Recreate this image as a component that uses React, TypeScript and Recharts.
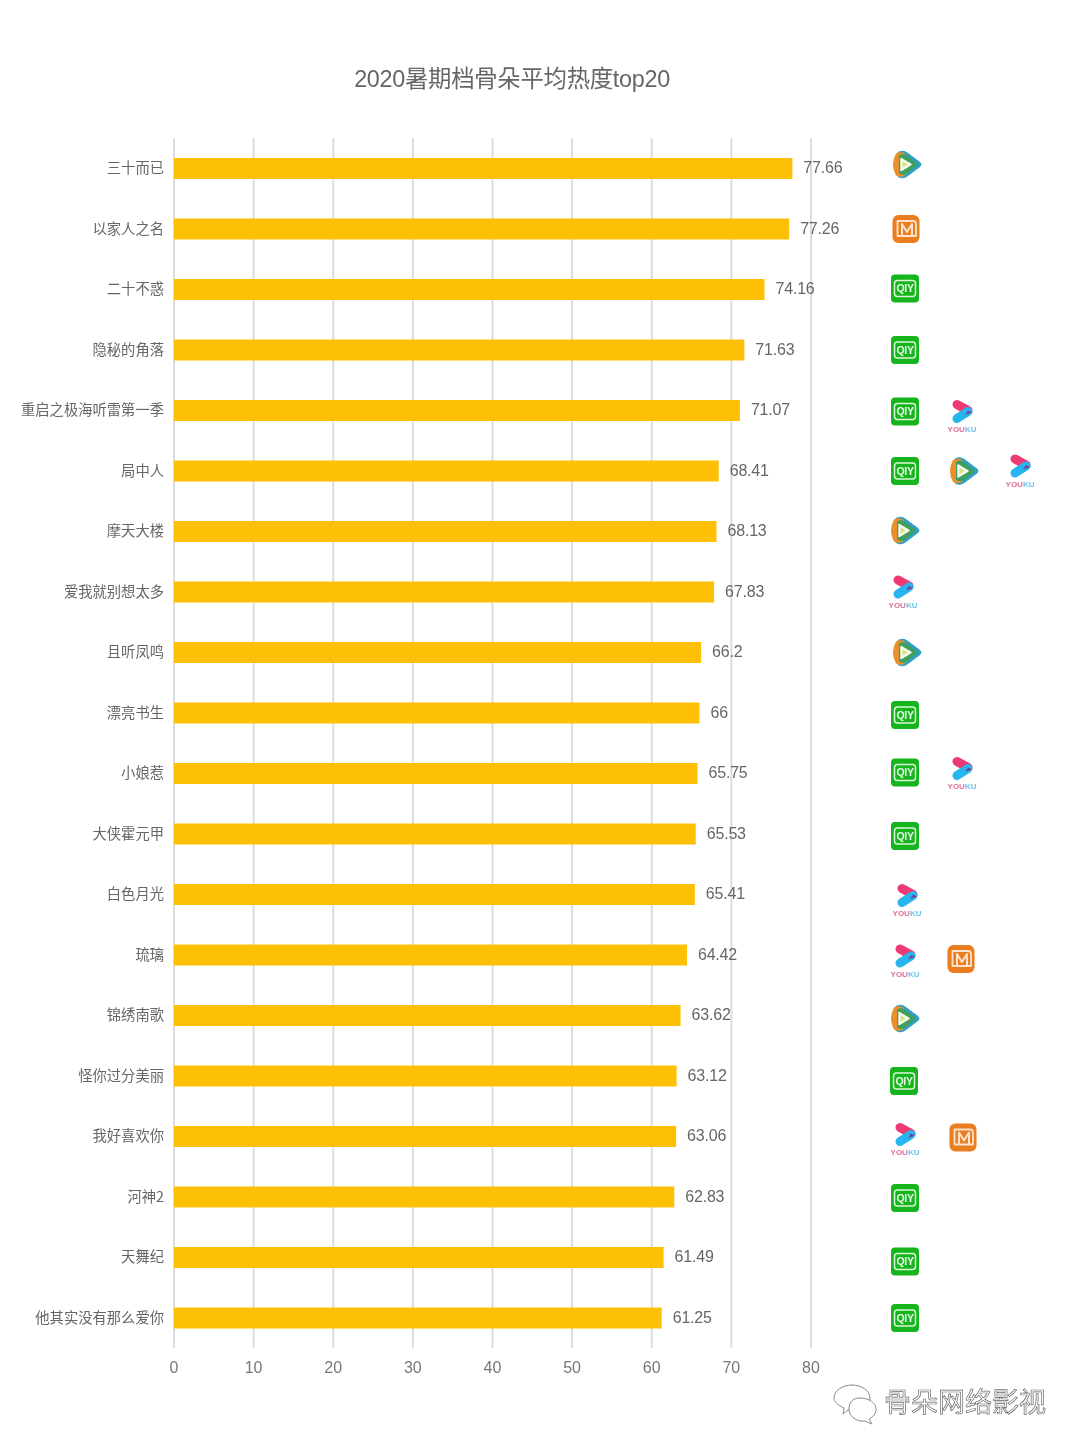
import React from "react";
import { BarChart, Bar, XAxis, YAxis, CartesianGrid, LabelList } from "recharts";

const CJK = '"Noto Sans CJK SC", "Noto Sans", sans-serif';
const LATIN = '"Liberation Sans", "Noto Sans CJK SC", sans-serif';

const titles = ["三十而已","以家人之名","二十不惑","隐秘的角落","重启之极海听雷第一季","局中人","摩天大楼","爱我就别想太多","且听凤鸣","漂亮书生","小娘惹","大侠霍元甲","白色月光","琉璃","锦绣南歌","怪你过分美丽","我好喜欢你","河神2","天舞纪","他其实没有那么爱你"];
const heat = [77.66,77.26,74.16,71.63,71.07,68.41,68.13,67.83,66.2,66,65.75,65.53,65.41,64.42,63.62,63.12,63.06,62.83,61.49,61.25];
const platforms = [["tencent"],["mango"],["iqiyi"],["iqiyi"],["iqiyi","youku"],["iqiyi","tencent","youku"],["tencent"],["youku"],["tencent"],["iqiyi"],["iqiyi","youku"],["iqiyi"],["youku"],["youku","mango"],["tencent"],["iqiyi"],["youku","mango"],["iqiyi"],["iqiyi"],["iqiyi"]];
const xTicks = [0,10,20,30,40,50,60,70,80];

const rows = titles.map((name, i) => ({ name, heat: heat[i] }));

const iconColumns = [905, 962, 1020];
const iconNudges = [
  [[1,-4]],[[1,0]],[[0,-1]],[[0,0]],[[0,1],[0,6]],[[0,0],[1,0],[0,0]],[[-1,-1]],[[-2,0]],[[1,0]],[[0,2]],
  [[0,-1],[0,0]],[[0,2]],[[2,6]],[[0,6],[-1,4]],[[-1,3]],[[-1,5]],[[0,3],[1,1]],[[0,1]],[[0,4]],[[0,0]],
];

function Tencent({ x, y }: any) {
  return (
    <g transform={`translate(${x} ${y})`}>
      <path d="M-8,-12 Q-3,-15 2,-11 L14,-2 Q16,0 14,2 L2,11 Q-3,15 -8,12 Z" fill="#2f9fc4" stroke="#2f9fc4" strokeWidth="1" strokeLinejoin="round" />
      <path d="M-10,-11 Q-4,-14 0,-10 L0,10 Q-4,14 -10,11 Q-16,0 -10,-11 Z" fill="#e8902a" />
      <path d="M-7,-9 Q-3,-11.5 1,-9 L11,-1 Q12,0 11,1 L1,9 Q-3,11.5 -7,9 Z" fill="#3f9e60" />
      <path d="M-5,-6 L5,0 L-5,6 Z" fill="#f6f8e8" stroke="#f6f8e8" strokeWidth="1.5" strokeLinejoin="round" />
      <path d="M-3.5,-3 L1.5,0 L-3.5,3 Z" fill="#d6e47a" />
    </g>
  );
}

function Mango({ x, y }: any) {
  return (
    <g transform={`translate(${x} ${y})`}>
      <rect x={-13.5} y={-14} width={27} height={28} rx={6} fill="#ea7d20" />
      <path d="M-8.5,-8 H7 Q10,-8 10,-5 V7 H-8.5 Z" fill="none" stroke="#fbe3cd" strokeWidth="1.8" strokeLinejoin="round" />
      <path d="M-4,7 V-5 L1,3 L6,-5 V7" fill="none" stroke="#fbe3cd" strokeWidth="2" strokeLinejoin="round" />
    </g>
  );
}

function Iqiyi({ x, y }: any) {
  return (
    <g transform={`translate(${x} ${y})`}>
      <rect x={-14} y={-14} width={28} height={28} rx={4} fill="#17b51d" />
      <rect x={-10.5} y={-8} width={21} height={16} rx={3} fill="none" stroke="#d8f5d8" strokeWidth="1.5" />
      <text x={0} y={3.8} textAnchor="middle" fontSize={10.5} fontWeight={700} fontFamily='"Liberation Sans", sans-serif' fill="#e8fbe8" letterSpacing={-0.3}>QIY</text>
    </g>
  );
}

function Youku({ x, y }: any) {
  return (
    <g transform={`translate(${x} ${y})`}>
      <path d="M-5,-12 L6,-6" stroke="#ee3a72" strokeWidth="9" strokeLinecap="round" />
      <path d="M6,-5 L-5,2" stroke="#27b5ee" strokeWidth="9" strokeLinecap="round" />
      <path d="M6,-6 L10,-4 L3,-1.5 Z" fill="#7a3f90" />
      <text x={0} y={15.5} textAnchor="middle" fontSize={8} fontWeight={700} fontFamily='"Liberation Sans", sans-serif' fill="#e46f95">
        YOU<tspan fill="#6cc4e8">KU</tspan>
      </text>
    </g>
  );
}

const iconOf: Record<string, any> = { tencent: Tencent, mango: Mango, iqiyi: Iqiyi, youku: Youku };

function PlatformIcons(props: any) {
  const { y, height, index } = props;
  const cy = y + height / 2;
  return (
    <g>
      {platforms[index].map((p, col) => {
        const Icon = iconOf[p];
        const [dx, dy] = iconNudges[index][col];
        return <Icon key={col} x={iconColumns[col] + dx} y={cy + dy} />;
      })}
    </g>
  );
}

function Watermark() {
  return (
    <g>
      <g fill="#fff" stroke="#8a8a8a" strokeWidth="1">
        <path d="M852,1385 C862,1385 870,1391 870,1398 C870,1405 862,1410 852,1410 L848,1410 L843,1414 L844,1408 C838,1405 834,1402 834,1398 C834,1391 842,1385 852,1385 Z" />
        <path d="M860,1398 C869,1398 876,1403 876,1409 C876,1414 873,1417 869,1419 L872,1424 L865,1421 C857,1422 849,1417 849,1409 C849,1403 852,1398 860,1398 Z" />
      </g>
      <text x={884} y={1412} fontSize={27} fontFamily={CJK} fill="#fff" stroke="#6a6a6a" strokeWidth={0.7}>骨朵网络影视</text>
    </g>
  );
}

export default function App() {
  return (
    <div style={{ position: "absolute", left: 0, top: 0, width: 1080, height: 1450, background: "#fff", filter: "blur(0.4px)" }}>
      <BarChart
        width={1080}
        height={1450}
        data={rows}
        layout="vertical"
        margin={{ top: 138, right: 269, bottom: 62, left: 0 }}
      >
        <CartesianGrid horizontal={false} vertical stroke="#dcdcdc" strokeWidth={2} />
        <XAxis
          type="number"
          domain={[0, 80]}
          ticks={xTicks}
          height={40}
          axisLine={false}
          tickLine={false}
          tickMargin={8}
          tick={{ fill: "#777", fontSize: 16, fontFamily: LATIN }}
          interval={0}
        />
        <YAxis
          type="category"
          dataKey="name"
          width={174}
          axisLine={false}
          tickLine={false}
          tickMargin={4}
          interval={0}
          tick={{ fill: "#666", fontSize: 14.3, fontFamily: CJK }}
        />
        <Bar dataKey="heat" fill="#FDC005" barSize={21} isAnimationActive={false}>
          <LabelList
            dataKey="heat"
            position="right"
            offset={11}
            fill="#666"
            fontSize={16}
            letterSpacing={-0.2}
            dy={-1}
            fontFamily={LATIN}
          />
          <LabelList dataKey="name" content={PlatformIcons} />
        </Bar>
        <text x={512} y={87} textAnchor="middle" fontSize={23.4} letterSpacing={-0.3} fontFamily={LATIN} fill="#666">2020暑期档骨朵平均热度top20</text>
        <Watermark />
      </BarChart>
    </div>
  );
}
